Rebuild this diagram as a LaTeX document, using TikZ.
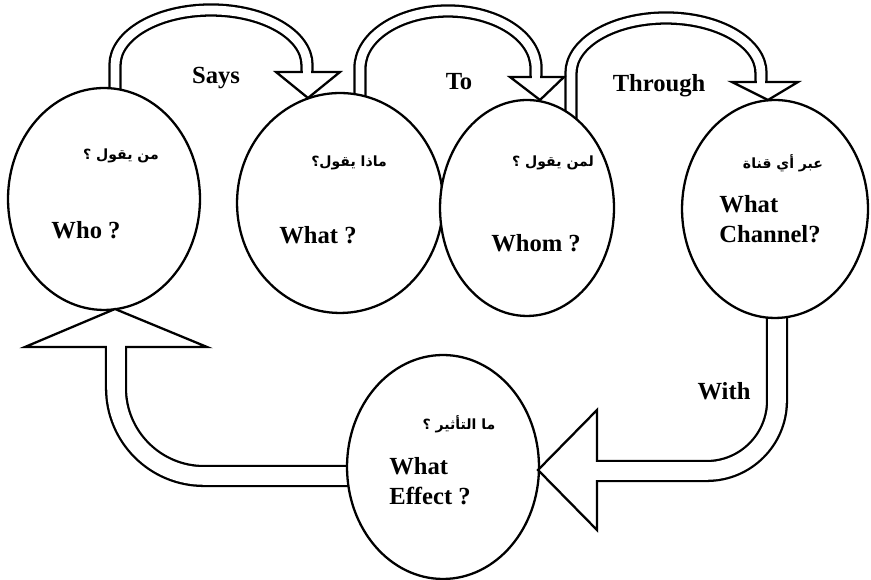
\documentclass[tikz,border=0pt]{standalone}
\usepackage{fontspec}
\setmainfont{Liberation Serif}
\newfontfamily\arabicfont[Script=Arabic]{DejaVu Sans}
\TeXXeTstate=1
\usetikzlibrary{shapes.geometric,positioning,calc,backgrounds}

\begin{document}
\begin{tikzpicture}[x=0.02cm,y=0.02cm,
      bubble/.style={draw,ellipse,line width=1.3pt,fill=white,inner sep=0pt},
      shaft/.style={line width=1.3pt,double=white,double distance=5pt},
      wideshaft/.style={line width=1.3pt,double=white,double distance=10pt},
      head/.style={draw,fill=white,line width=1.3pt,line join=miter},
      seam/.style={white,line width=#1},
      lbl/.style={font=\fontsize{14}{17}\selectfont\bfseries},
      ar/.style={font=\arabicfont\fontsize{8}{10}\selectfont\bfseries}
      ]
      \useasboundingbox (0,0) rectangle (871,580);
      \node[bubble,minimum width=3.84cm,minimum height=4.44cm] (Who) at (104,381) {};
      \node[bubble,minimum width=4.12cm,minimum height=4.40cm] (What) at (340,377) {};
      \node[bubble,minimum width=3.48cm,minimum height=4.32cm] (Whom) at (527,372) {};
      \node[bubble,minimum width=3.72cm,minimum height=4.36cm] (Channel) at (775,371) {};
      \node[bubble,minimum width=3.84cm,minimum height=4.48cm] (Effect) at (443,113) {};

      \begin{scope}[on background layer]
        \draw[shaft] ($(Who.north)+(11,-20)$) -- (115,515) arc[start angle=180,end angle=0,x radius=96,y radius=55] -- (307,508);
        \draw[shaft] ($(What.north)+(20,-20)$) -- (360,512) arc[start angle=180,end angle=0,x radius=88,y radius=57] -- (536,503);
        \draw[shaft] ($(Whom.north)+(44,-20)$) -- (571,507) arc[start angle=180,end angle=0,x radius=95,y radius=55] -- (761,498);
        \draw[wideshaft,rounded corners=40pt] ($(Channel.south)+(2,20)$) -- (777,109) -- (597,109);
        \draw[wideshaft,rounded corners=50pt] ($(Effect.west)+(15,-9)$) -- (116,104) -- (116,233);
      \end{scope}

      % arrow heads
      \draw[head] (276,508) -- (340,508) -- (308,482) -- cycle;
      \draw[head] (510,503) -- (564,503) -- (540,480) -- cycle;
      \draw[head] (732,498) -- (798,498) -- (768,480) -- cycle;
      \draw[head] (597,170) -- (597,50) -- (538,110) -- cycle;
      \draw[head] (25,233) -- (207,233) -- (115,271) -- cycle;
      \draw[seam=5pt] (307,511) -- (307,505);
      \draw[seam=5pt] (536,506) -- (536,500);
      \draw[seam=5pt] (761,501) -- (761,495);
      \draw[seam=10pt] (600,109) -- (594,109);
      \draw[seam=10pt] (116,230) -- (116,236);

      \node[lbl] (says) at (216,502) {Says};
      \node[lbl] (to) at (459,498) {To};
      \node[lbl] (through) at (659,494) {Through};
      \node[lbl] (with) at (724,189) {With};

      \node[ar] (ar1) at (121,424) {\beginR من يقول ؟\endR};
      \node[ar] (ar2) at (349,417) {\beginR ماذا يقول؟\endR};
      \node[ar] (ar3) at (553,417) {\beginR لمن يقول ؟\endR};
      \node[ar] (ar4) at (783,417) {\beginR عبر أي قناة\endR};
      \node[ar] (ar5) at (459,156) {\beginR ما التأثير ؟\endR};

      \node[lbl] (en1) at (86,350) {Who ?};
      \node[lbl] (en2) at (318,345) {What ?};
      \node[lbl] (en3) at (536,337) {Whom ?};
      \node[lbl,align=left] (en4) at (770,361) {What\\Channel?};
      \node[lbl,align=left] (en5) at (430,99) {What\\Effect ?};
    \end{tikzpicture}
\end{document}
